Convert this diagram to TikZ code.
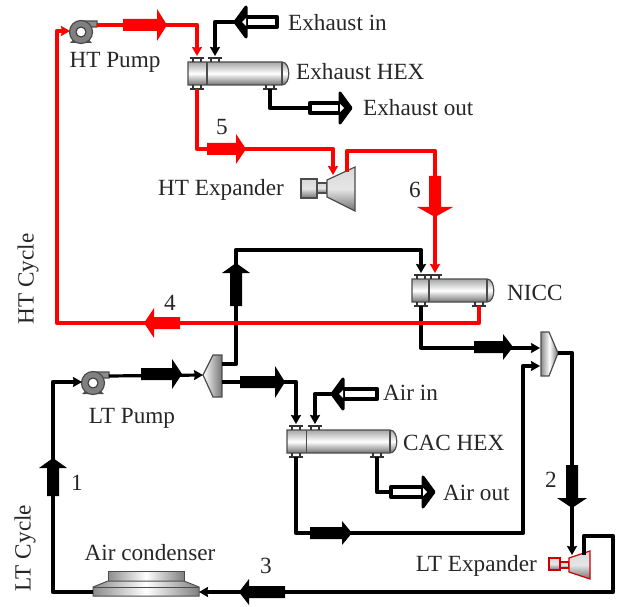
\documentclass[tikz,border=0pt]{standalone}
\usepackage{fontspec}
\setmainfont{Liberation Serif}
\usetikzlibrary{arrows.meta}

\tikzset{
  blackpipe/.style={draw=black,line width=4.6pt,line join=round,-{Stealth[length=9pt,width=10pt,inset=1pt]}},
  redpipe/.style={blackpipe,draw=red,color=red,line width=4.6pt},
  plainblack/.style={draw=black,line width=4.6pt,line join=round},
  lbl/.style={font=\fontsize{23.2}{25}\selectfont,inner sep=0pt,text=black!85},
  steel/.style={draw=black!70,line width=1.2pt,top color=black!35,bottom color=black!55,middle color=white},
  % #1 length of the thick part, #2 half height of the head
  pics/flow/.style 2 args={code={
    \fill[pic actions] (0,-6) -- (#1,-6) -- (#1,-#2) -- (#1+10,0) -- (#1,#2) -- (#1,6) -- (0,6) -- cycle;}},
  pics/hollow/.style={code={
    \draw[black,line width=4.2pt,fill=white,line join=round] (0,-5) -- (#1,-5) -- (#1,5) -- (0,5) -- cycle;
    \draw[black,line width=3pt,fill=black,line join=round] (#1,-15) -- (#1+11,0) -- (#1,15) -- cycle;
    \fill[white] (#1,-4) -- (#1+4,0) -- (#1,4) -- cycle;}},
  % shell and tube unit: #1 shell length, #2 spacing of the top nozzles, #3 last nozzle from the end
  pics/hexunit/.style n args={3}{code={
    \shade[steel] (0,0) -- (#1-7,0) .. controls (#1+2,0) and (#1+2,23) .. (#1-7,23) -- (0,23) -- cycle;
    \draw[black!70,line width=1.2pt] (#1-7,0) -- (#1-7,23) (9+#2/2+1,0) -- (9+#2/2+1,23);
    \foreach \xpos in {9,9+#2}
      \draw[black!80,line width=1.5pt] (\xpos-7,-4) -- (\xpos+7,-4) (\xpos-4,-4) -- (\xpos-4,0) (\xpos+4,-4) -- (\xpos+4,0);
    \foreach \xpos in {9,#1-#3}
      \draw[black!80,line width=1.5pt] (\xpos-7,27) -- (\xpos+7,27) (\xpos-4,27) -- (\xpos-4,23) (\xpos+4,27) -- (\xpos+4,23);
    \coordinate (-topa) at (9,-6);
    \coordinate (-topb) at (9+#2,-6);
    \coordinate (-bota) at (9,27);
    \coordinate (-botb) at (#1-#3,27);}},
  pics/pumpunit/.style={code={
    \fill[black!70] (-11,11) -- (11,11) -- (8,8) -- (-8,8) -- cycle;
    \draw[black!70,line width=1.2pt,fill=black!45] (0,-11) -- (16,-11) -- (16,-5) -- (8,-5) -- cycle;
    \draw[black!70,line width=1.2pt,fill=black!50] (0,0) circle[radius=11.5];
    \draw[black!80,line width=1pt,fill=white] (0,0) circle[radius=5];
    \coordinate (-inlet) at (-11,-1);
    \coordinate (-outlet) at (16,-7);}},
  expandunit/.style={draw=#1,line width=1.2pt,top color=black!15,bottom color=black!55,middle color=black!10}
}

\begin{document}
\begin{tikzpicture}[x=1pt,y=-1pt]
\useasboundingbox (0,0) rectangle (619,607);

% equipment
\pic (hpump) at (81,32) {pumpunit};
\pic (lpump) at (93,383) {pumpunit};
\pic (exhex) at (188,62) {hexunit={101}{18}{19}};
\pic (nicc) at (412,279) {hexunit={82}{14}{15}};
\pic (cachex) at (287,430) {hexunit={110}{19}{20}};

% HT expander
\shade[expandunit=black!70] (301,179) rectangle (317,198);
\shade[expandunit=black!70] (317,183) rectangle (327,193);
\shade[expandunit=black!70] (327,180) -- (355,167) -- (355,211) -- (327,197) -- cycle;
\coordinate (hexp-in) at (333,175);
\coordinate (hexp-out) at (347,172);
% LT expander
\shade[expandunit=red!80!black] (549,558) rectangle (560,570);
\shade[expandunit=red!80!black] (560,562) rectangle (569,568);
\shade[expandunit=red!80!black] (569,558) -- (590,551) -- (590,579) -- (569,572) -- cycle;
\coordinate (lexp-in) at (572,555);
\coordinate (lexp-out) at (584,555);
% splitter
\shade[steel,left color=white,right color=black!55] (203,375) -- (213,355) -- (222,355) -- (222,397) -- (213,397) -- cycle;
\coordinate (split-in) at (203,375);
\coordinate (split-up) at (222,364);
\coordinate (split-dn) at (222,382);
% mixer
\shade[steel,left color=black!45,right color=black!55,middle color=white] (541,332) -- (549,332) -- (558,353) -- (549,376) -- (541,376) -- cycle;
\coordinate (mix-ina) at (540,348);
\coordinate (mix-inb) at (540,366);
\coordinate (mix-out) at (558,353);
% condenser
\shade[draw=black!70,line width=1pt,left color=black!45,right color=black!50,middle color=white] (108,571) rectangle (184,581);
\shade[draw=black!70,line width=1pt,left color=black!45,right color=black!50,middle color=white] (108,581) -- (184,581) -- (199,587) -- (199,596) -- (93,596) -- (93,587) -- cycle;
\draw[black!70,line width=1pt] (93,587) -- (199,587);
\coordinate (cond-in) at (199,592);
\coordinate (cond-out) at (93,592);

% black pipes
\coordinate (exin) at (237,22);
\coordinate (exout) at (310,108);
\coordinate (airin) at (333,394);
\coordinate (airout) at (391,492);
\draw[blackpipe] (exin) -| (exhex-topb);
\draw[plainblack] (exhex-botb) |- (exout);
\draw[blackpipe] (airin) -| (cachex-topb);
\draw[plainblack] (cachex-botb) |- (airout);
\draw[blackpipe] (cond-out) -| (53,382) -- (lpump-inlet);
\draw[blackpipe,line width=3.2pt] (lpump-outlet) -- (split-in);
\draw[blackpipe] (split-up) -| (236,250) -| (nicc-topa);
\draw[blackpipe] (split-dn) -| (cachex-topa);
\draw[blackpipe] (nicc-bota) |- (mix-ina);
\draw[blackpipe] (cachex-bota) |- (523,533) |- (mix-inb);
\draw[blackpipe] (mix-out) -| (lexp-in);
\draw[blackpipe] (lexp-out) |- (613,536) |- (cond-in);

% red pipes
\draw[redpipe] (hpump-outlet) -| (exhex-topa);
\draw[redpipe] (exhex-bota) |- (hexp-in |- 0,149) -- (hexp-in);
\draw[redpipe] (hexp-out) |- (nicc-topb |- 0,151) -- (nicc-topb);
\draw[redpipe] (nicc-botb) |- (57,323) |- (hpump-inlet);

% flow marks
\pic[fill=red] at (123,25) {flow={34}{16}};
\pic[fill=red] at (207,149) {flow={29}{15}};
\pic[fill=red,rotate=-90] at (435,176) {flow={31}{18}};
\pic[fill=red,rotate=180] at (180,323) {flow={26}{15}};
\pic[fill=black,rotate=90] at (236,306) {flow={33}{14}};
\pic[fill=black] at (474,347) {flow={29}{13}};
\pic[fill=black] at (141,374) {flow={31}{15}};
\pic[fill=black] at (240,382) {flow={35}{16}};
\pic[fill=black] at (310,533) {flow={32}{12}};
\pic[fill=black,rotate=-90] at (572,465) {flow={33}{15}};
\pic[fill=black,rotate=180] at (285,592) {flow={36}{13}};
\pic[fill=black,rotate=90] at (53,496) {flow={28}{14}};
\pic[rotate=180] at (277,22) {hollow=31};
\pic at (310,108) {hollow=30};
\pic[rotate=180] at (377,394) {hollow=34};
\pic at (391,492) {hollow=32};

% labels
\node[lbl] (hpumplbl) at (115,62) {HT Pump};
\node[lbl] (lpumplbl) at (132,418) {LT Pump};
\node[lbl,anchor=west] (exinlbl) at (288,23) {Exhaust in};
\node[lbl,anchor=west] (exhexlbl) at (296,72) {Exhaust HEX};
\node[lbl,anchor=west] (exoutlbl) at (363,108) {Exhaust out};
\node[lbl,anchor=east] (hexplbl) at (284,190) {HT Expander};
\node[lbl,anchor=west] (nicclbl) at (507,293) {NICC};
\node[lbl,anchor=west] (airinlbl) at (383,393) {Air in};
\node[lbl,anchor=west] (caclbl) at (403,443) {CAC HEX};
\node[lbl,anchor=west] (airoutlbl) at (443,493) {Air out};
\node[lbl,anchor=east] (lexplbl) at (537,566) {LT Expander};
\node[lbl] (condlbl) at (150,553) {Air condenser};
\node[lbl,rotate=90] (htlbl) at (28,279) {HT Cycle};
\node[lbl,rotate=90] (ltlbl) at (25,548) {LT Cycle};
\node[lbl] (numa) at (77,483) {1};
\node[lbl] (numb) at (551,480) {2};
\node[lbl] (numc) at (266,566) {3};
\node[lbl] (numd) at (170,303) {4};
\node[lbl] (nume) at (222,127) {5};
\node[lbl] (numf) at (415,190) {6};
\end{tikzpicture}
\end{document}
